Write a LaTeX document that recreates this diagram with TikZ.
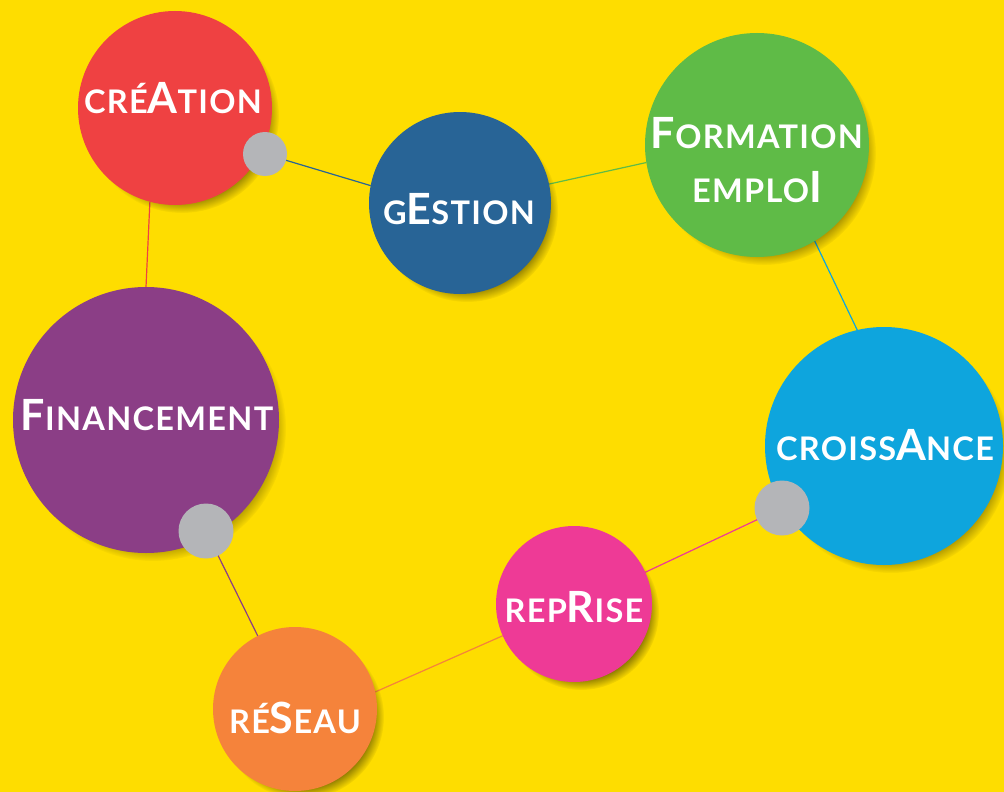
\documentclass[tikz,border=0pt]{standalone}
\usepackage{fontspec}
\setmainfont{Lato}
\newfontfamily\lspaced[LetterSpace=4]{Lato}
\usetikzlibrary{shadows,fadings}
\definecolor{bgy}{HTML}{FEDD00}
\definecolor{creac}{HTML}{EF4142}
\definecolor{gesc}{HTML}{286496}
\definecolor{formc}{HTML}{5FBB47}
\definecolor{finc}{HTML}{8B3E86}
\definecolor{croisc}{HTML}{0EA5DD}
\definecolor{resc}{HTML}{F5833B}
\definecolor{repc}{HTML}{EE3A96}
\definecolor{greyc}{HTML}{B4B5B8}
\newcommand\lsm[1]{{\lspaced\fontsize{32.5}{32.5}\selectfont\bfseries #1}}
\newcommand\lbg[1]{{\lspaced\fontsize{43}{43}\selectfont\bfseries #1}}
\pgfdeclarelayer{bg}
\pgfdeclarelayer{lines}
\pgfsetlayers{bg,lines,main}
\begin{document}
\begin{tikzpicture}[x=1pt,y=-1pt,
  disc/.style={circle, inner sep=0pt, outer sep=0pt, minimum size=#1pt,
    circular drop shadow={shadow xshift=7pt, shadow yshift=-8pt, shadow scale=1.0, opacity=.45, fill=black}},
  gdot/.style={circle, inner sep=0pt, outer sep=0pt, minimum size=#1pt, fill=greyc},
  lbl/.style={anchor=base, text=white, inner sep=0pt},
  link/.style={line width=1.2pt}]
\useasboundingbox (0,0) rectangle (1004,792);
\begin{pgfonlayer}{bg}
\fill[bgy] (0,0) rectangle (1004,792);
\end{pgfonlayer}
\node[disc=194, fill=creac] (crea) at (175,108) {};
\node[disc=182, fill=gesc] (ges) at (460,203) {};
\node[disc=224, fill=formc] (form) at (757,145) {};
\node[disc=266, fill=finc] (fin) at (146,420) {};
\node[disc=238, fill=croisc] (crois) at (884,446) {};
\node[disc=164, fill=resc] (res) at (295,709) {};
\node[disc=156, fill=repc] (rep) at (574,604) {};
\node[gdot=44] (d1) at (265,154) {};
\node[gdot=55] (d2) at (206,531) {};
\node[gdot=55] (d3) at (782,508) {};
\begin{pgfonlayer}{lines}
\draw[link, creac] (crea.255) -- (fin.90);
\draw[link, gesc] (d1.center) -- (ges.169);
\draw[link, formc] (ges.12) -- (form.189);
\draw[link, croisc] (form.301) -- (crois.103);
\draw[link, repc] (d3.center) -- (rep.24);
\draw[link, resc] (rep.204) -- (res.12);
\draw[link, finc] (d2.center) -- (res.117);
\end{pgfonlayer}
\node[lbl] (creaT) at (173,113) {\lsm{CRÉ}\lbg{A}\lsm{TION}};
\node[lbl] (gesT) at (459,224) {\lsm{G}\lbg{E}\lsm{STION}};
\node[lbl] (formT) at (757,148) {\lbg{F}\lsm{ORMATION}};
\node[lbl] (empT) at (757,202) {\lsm{EMPLO}\lbg{I}};
\node[lbl] (finT) at (147,430) {\lbg{F}\lsm{INANCEMENT}};
\node[lbl] (croisT) at (885,460) {\lsm{CROISS}\lbg{A}\lsm{NCE}};
\node[lbl] (resT) at (295,733) {\lsm{RÉ}\lbg{S}\lsm{EAU}};
\node[lbl] (repT) at (574,622) {\lsm{REP}\lbg{R}\lsm{ISE}};
\end{tikzpicture}
\end{document}
